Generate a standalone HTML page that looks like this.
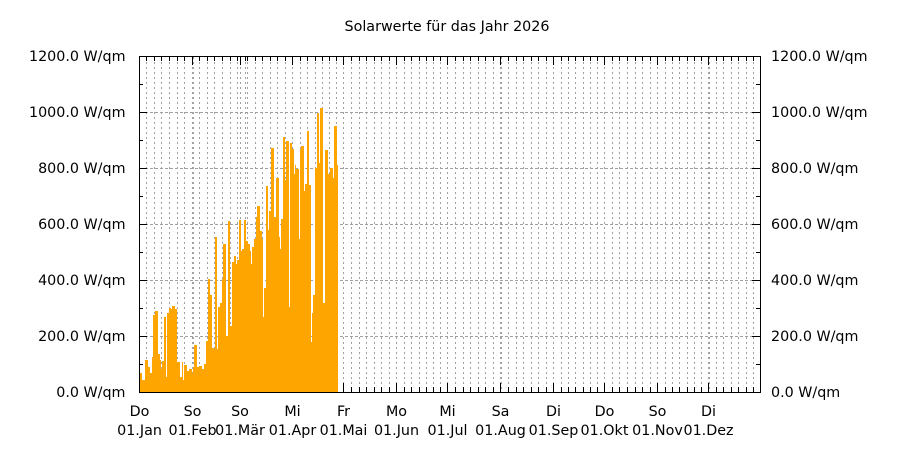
<!DOCTYPE html>
<html><head><meta charset="utf-8"><style>
html,body{margin:0;padding:0;background:#fff;}
svg{display:block;}
text{font-family:"DejaVu Sans","Liberation Sans",sans-serif;font-size:14.3px;fill:#000;}
</style></head><body>
<svg width="900" height="450" viewBox="0 0 900 450" xmlns="http://www.w3.org/2000/svg">
<rect x="0" y="0" width="900" height="450" fill="#fff"/>
<text x="447" y="31" text-anchor="middle">Solarwerte für das Jahr 2026</text>

<!-- horizontal grid -->
<g stroke="#a0a0a0" stroke-width="1" stroke-dasharray="3,2" shape-rendering="crispEdges">
<line x1="140" y1="336.5" x2="760" y2="336.5"/>
<line x1="140" y1="280.5" x2="760" y2="280.5"/>
<line x1="140" y1="224.5" x2="760" y2="224.5"/>
<line x1="140" y1="168.5" x2="760" y2="168.5"/>
<line x1="140" y1="112.5" x2="760" y2="112.5"/>
</g>

<!-- vertical grid -->
<g stroke="#a0a0a0" stroke-width="1" stroke-dasharray="2,3" shape-rendering="crispEdges">
<line x1="146.5" y1="57" x2="146.5" y2="392"/><line x1="154.5" y1="57" x2="154.5" y2="392"/><line x1="161.5" y1="57" x2="161.5" y2="392"/><line x1="169.5" y1="57" x2="169.5" y2="392"/><line x1="177.5" y1="57" x2="177.5" y2="392"/><line x1="184.5" y1="57" x2="184.5" y2="392"/>
<line x1="192.5" y1="57" x2="192.5" y2="392"/><line x1="193.5" y1="57" x2="193.5" y2="392"/>
<line x1="199.5" y1="57" x2="199.5" y2="392"/><line x1="207.5" y1="57" x2="207.5" y2="392"/><line x1="214.5" y1="57" x2="214.5" y2="392"/><line x1="222.5" y1="57" x2="222.5" y2="392"/><line x1="230.5" y1="57" x2="230.5" y2="392"/><line x1="237.5" y1="57" x2="237.5" y2="392"/>
<line x1="240.5" y1="57" x2="240.5" y2="392"/><line x1="245.5" y1="57" x2="245.5" y2="392"/>
<line x1="247.5" y1="57" x2="247.5" y2="392"/><line x1="255.5" y1="57" x2="255.5" y2="392"/><line x1="262.5" y1="57" x2="262.5" y2="392"/><line x1="270.5" y1="57" x2="270.5" y2="392"/><line x1="277.5" y1="57" x2="277.5" y2="392"/><line x1="285.5" y1="57" x2="285.5" y2="392"/>
<line x1="292.5" y1="57" x2="292.5" y2="392"/>
<line x1="300.5" y1="57" x2="300.5" y2="392"/><line x1="307.5" y1="57" x2="307.5" y2="392"/><line x1="315.5" y1="57" x2="315.5" y2="392"/><line x1="322.5" y1="57" x2="322.5" y2="392"/><line x1="329.5" y1="57" x2="329.5" y2="392"/><line x1="336.5" y1="57" x2="336.5" y2="392"/>
<line x1="343.5" y1="57" x2="343.5" y2="392"/>
<line x1="351.5" y1="57" x2="351.5" y2="392"/><line x1="359.5" y1="57" x2="359.5" y2="392"/><line x1="366.5" y1="57" x2="366.5" y2="392"/><line x1="374.5" y1="57" x2="374.5" y2="392"/><line x1="381.5" y1="57" x2="381.5" y2="392"/><line x1="389.5" y1="57" x2="389.5" y2="392"/>
<line x1="396.5" y1="57" x2="396.5" y2="392"/>
<line x1="404.5" y1="57" x2="404.5" y2="392"/><line x1="411.5" y1="57" x2="411.5" y2="392"/><line x1="419.5" y1="57" x2="419.5" y2="392"/><line x1="426.5" y1="57" x2="426.5" y2="392"/><line x1="433.5" y1="57" x2="433.5" y2="392"/><line x1="440.5" y1="57" x2="440.5" y2="392"/>
<line x1="447.5" y1="57" x2="447.5" y2="392"/>
<line x1="455.5" y1="57" x2="455.5" y2="392"/><line x1="463.5" y1="57" x2="463.5" y2="392"/><line x1="470.5" y1="57" x2="470.5" y2="392"/><line x1="478.5" y1="57" x2="478.5" y2="392"/><line x1="485.5" y1="57" x2="485.5" y2="392"/><line x1="493.5" y1="57" x2="493.5" y2="392"/>
<line x1="500.5" y1="57" x2="500.5" y2="392"/><line x1="501.5" y1="57" x2="501.5" y2="392"/>
<line x1="508.5" y1="57" x2="508.5" y2="392"/><line x1="516.5" y1="57" x2="516.5" y2="392"/><line x1="523.5" y1="57" x2="523.5" y2="392"/><line x1="531.5" y1="57" x2="531.5" y2="392"/><line x1="538.5" y1="57" x2="538.5" y2="392"/><line x1="546.5" y1="57" x2="546.5" y2="392"/>
<line x1="553.5" y1="57" x2="553.5" y2="392"/>
<line x1="561.5" y1="57" x2="561.5" y2="392"/><line x1="568.5" y1="57" x2="568.5" y2="392"/><line x1="575.5" y1="57" x2="575.5" y2="392"/><line x1="583.5" y1="57" x2="583.5" y2="392"/><line x1="590.5" y1="57" x2="590.5" y2="392"/><line x1="597.5" y1="57" x2="597.5" y2="392"/>
<line x1="604.5" y1="57" x2="604.5" y2="392"/>
<line x1="612.5" y1="57" x2="612.5" y2="392"/><line x1="619.5" y1="57" x2="619.5" y2="392"/><line x1="627.5" y1="57" x2="627.5" y2="392"/><line x1="635.5" y1="57" x2="635.5" y2="392"/><line x1="642.5" y1="57" x2="642.5" y2="392"/><line x1="650.5" y1="57" x2="650.5" y2="392"/>
<line x1="657.5" y1="57" x2="657.5" y2="392"/>
<line x1="665.5" y1="57" x2="665.5" y2="392"/><line x1="672.5" y1="57" x2="672.5" y2="392"/><line x1="679.5" y1="57" x2="679.5" y2="392"/><line x1="687.5" y1="57" x2="687.5" y2="392"/><line x1="694.5" y1="57" x2="694.5" y2="392"/><line x1="701.5" y1="57" x2="701.5" y2="392"/>
<line x1="708.5" y1="57" x2="708.5" y2="392"/><line x1="709.5" y1="57" x2="709.5" y2="392"/>
<line x1="716.5" y1="57" x2="716.5" y2="392"/><line x1="723.5" y1="57" x2="723.5" y2="392"/><line x1="731.5" y1="57" x2="731.5" y2="392"/><line x1="738.5" y1="57" x2="738.5" y2="392"/><line x1="746.5" y1="57" x2="746.5" y2="392"/><line x1="753.5" y1="57" x2="753.5" y2="392"/>
</g>

<!-- ticks -->
<g stroke="#000" stroke-width="1" shape-rendering="crispEdges">
<!-- y left major -->
<line x1="139" y1="336.5" x2="147" y2="336.5"/><line x1="139" y1="280.5" x2="147" y2="280.5"/><line x1="139" y1="224.5" x2="147" y2="224.5"/><line x1="139" y1="168.5" x2="147" y2="168.5"/><line x1="139" y1="112.5" x2="147" y2="112.5"/>
<!-- y left minor -->
<line x1="139" y1="364.5" x2="143" y2="364.5"/><line x1="139" y1="308.5" x2="143" y2="308.5"/><line x1="139" y1="252.5" x2="143" y2="252.5"/><line x1="139" y1="196.5" x2="143" y2="196.5"/><line x1="139" y1="140.5" x2="143" y2="140.5"/><line x1="139" y1="84.5" x2="143" y2="84.5"/>
<!-- y right major -->
<line x1="752" y1="336.5" x2="761" y2="336.5"/><line x1="752" y1="280.5" x2="761" y2="280.5"/><line x1="752" y1="224.5" x2="761" y2="224.5"/><line x1="752" y1="168.5" x2="761" y2="168.5"/><line x1="752" y1="112.5" x2="761" y2="112.5"/>
<line x1="756" y1="364.5" x2="761" y2="364.5"/><line x1="756" y1="308.5" x2="761" y2="308.5"/><line x1="756" y1="252.5" x2="761" y2="252.5"/><line x1="756" y1="196.5" x2="761" y2="196.5"/><line x1="756" y1="140.5" x2="761" y2="140.5"/><line x1="756" y1="84.5" x2="761" y2="84.5"/>
</g>
<!-- x ticks top (major) -->
<g stroke="#000" stroke-width="1" shape-rendering="crispEdges">
<path d="M139.5 56V65M192.5 56V65M240.5 56V65M292.5 56V65M343.5 56V65M396.5 56V65M447.5 56V65M500.5 56V65M553.5 56V65M604.5 56V65M657.5 56V65M708.5 56V65"/>
<path d="M139.5 392V383M192.5 392V383M240.5 392V383M292.5 392V383M343.5 392V383M396.5 392V383M447.5 392V383M500.5 392V383M553.5 392V383M604.5 392V383M657.5 392V383M708.5 392V383"/>
<path d="M146.5 56V61M154.5 56V61M161.5 56V61M169.5 56V61M177.5 56V61M184.5 56V61M199.5 56V61M207.5 56V61M214.5 56V61M222.5 56V61M230.5 56V61M237.5 56V61M245.5 56V61M247.5 56V61M255.5 56V61M262.5 56V61M270.5 56V61M277.5 56V61M285.5 56V61M300.5 56V61M307.5 56V61M315.5 56V61M322.5 56V61M329.5 56V61M336.5 56V61M351.5 56V61M359.5 56V61M366.5 56V61M374.5 56V61M381.5 56V61M389.5 56V61M404.5 56V61M411.5 56V61M419.5 56V61M426.5 56V61M433.5 56V61M440.5 56V61M455.5 56V61M463.5 56V61M470.5 56V61M478.5 56V61M485.5 56V61M493.5 56V61M508.5 56V61M516.5 56V61M523.5 56V61M531.5 56V61M538.5 56V61M546.5 56V61M561.5 56V61M568.5 56V61M575.5 56V61M583.5 56V61M590.5 56V61M597.5 56V61M612.5 56V61M619.5 56V61M627.5 56V61M635.5 56V61M642.5 56V61M650.5 56V61M665.5 56V61M672.5 56V61M679.5 56V61M687.5 56V61M694.5 56V61M701.5 56V61M716.5 56V61M723.5 56V61M731.5 56V61M738.5 56V61M746.5 56V61M753.5 56V61"/>
<path d="M146.5 392V387M154.5 392V387M161.5 392V387M169.5 392V387M177.5 392V387M184.5 392V387M199.5 392V387M207.5 392V387M214.5 392V387M222.5 392V387M230.5 392V387M237.5 392V387M245.5 392V387M247.5 392V387M255.5 392V387M262.5 392V387M270.5 392V387M277.5 392V387M285.5 392V387M300.5 392V387M307.5 392V387M315.5 392V387M322.5 392V387M329.5 392V387M336.5 392V387M351.5 392V387M359.5 392V387M366.5 392V387M374.5 392V387M381.5 392V387M389.5 392V387M404.5 392V387M411.5 392V387M419.5 392V387M426.5 392V387M433.5 392V387M440.5 392V387M455.5 392V387M463.5 392V387M470.5 392V387M478.5 392V387M485.5 392V387M493.5 392V387M508.5 392V387M516.5 392V387M523.5 392V387M531.5 392V387M538.5 392V387M546.5 392V387M561.5 392V387M568.5 392V387M575.5 392V387M583.5 392V387M590.5 392V387M597.5 392V387M612.5 392V387M619.5 392V387M627.5 392V387M635.5 392V387M642.5 392V387M650.5 392V387M665.5 392V387M672.5 392V387M679.5 392V387M687.5 392V387M694.5 392V387M701.5 392V387M716.5 392V387M723.5 392V387M731.5 392V387M738.5 392V387M746.5 392V387M753.5 392V387"/>
</g>

<!-- bars -->
<g fill="#FFA500" shape-rendering="crispEdges">
<rect x="140" y="373" width="2" height="19"/>
<rect x="142" y="380" width="3" height="12"/>
<rect x="145" y="360" width="3" height="32"/>
<rect x="148" y="367" width="2" height="25"/>
<rect x="150" y="373" width="2" height="19"/>
<rect x="152" y="357" width="1" height="35"/>
<rect x="153" y="315" width="2" height="77"/>
<rect x="155" y="311" width="3" height="81"/>
<rect x="158" y="354" width="2" height="38"/>
<rect x="160" y="360" width="1" height="32"/>
<rect x="161" y="369" width="1" height="23"/>
<rect x="162" y="361" width="2" height="31"/>
<rect x="164" y="317" width="2" height="75"/>
<rect x="166" y="377" width="1" height="15"/>
<rect x="167" y="313" width="2" height="79"/>
<rect x="169" y="308" width="2" height="84"/>
<rect x="171" y="309" width="1" height="83"/>
<rect x="172" y="306" width="3" height="86"/>
<rect x="175" y="309" width="2" height="83"/>
<rect x="177" y="362" width="3" height="30"/>
<rect x="180" y="377" width="2" height="15"/>
<rect x="182" y="362" width="1" height="30"/>
<rect x="183" y="380" width="1" height="12"/>
<rect x="184" y="365" width="3" height="27"/>
<rect x="187" y="371" width="2" height="21"/>
<rect x="189" y="369" width="3" height="23"/>
<rect x="192" y="373" width="1" height="19"/>
<rect x="193" y="367" width="1" height="25"/>
<rect x="194" y="345" width="3" height="47"/>
<rect x="197" y="367" width="2" height="25"/>
<rect x="199" y="366" width="3" height="26"/>
<rect x="202" y="369" width="2" height="23"/>
<rect x="204" y="364" width="2" height="28"/>
<rect x="206" y="341" width="2" height="51"/>
<rect x="208" y="279" width="2" height="113"/>
<rect x="210" y="295" width="2" height="97"/>
<rect x="212" y="348" width="2" height="44"/>
<rect x="214" y="349" width="1" height="43"/>
<rect x="215" y="237" width="2" height="155"/>
<rect x="217" y="349" width="1" height="43"/>
<rect x="218" y="307" width="2" height="85"/>
<rect x="220" y="303" width="2" height="89"/>
<rect x="222" y="279" width="1" height="113"/>
<rect x="223" y="244" width="3" height="148"/>
<rect x="226" y="336" width="2" height="56"/>
<rect x="228" y="221" width="2" height="171"/>
<rect x="230" y="326" width="2" height="66"/>
<rect x="232" y="262" width="2" height="130"/>
<rect x="234" y="256" width="2" height="136"/>
<rect x="236" y="264" width="1" height="128"/>
<rect x="237" y="260" width="2" height="132"/>
<rect x="239" y="220" width="2" height="172"/>
<rect x="241" y="251" width="1" height="141"/>
<rect x="242" y="249" width="2" height="143"/>
<rect x="244" y="220" width="2" height="172"/>
<rect x="246" y="241" width="2" height="151"/>
<rect x="248" y="244" width="2" height="148"/>
<rect x="250" y="251" width="1" height="141"/>
<rect x="251" y="264" width="1" height="128"/>
<rect x="252" y="247" width="2" height="145"/>
<rect x="254" y="239" width="2" height="153"/>
<rect x="256" y="217" width="1" height="175"/>
<rect x="257" y="206" width="3" height="186"/>
<rect x="260" y="231" width="2" height="161"/>
<rect x="262" y="239" width="1" height="153"/>
<rect x="263" y="317" width="1" height="75"/>
<rect x="264" y="288" width="2" height="104"/>
<rect x="266" y="186" width="2" height="206"/>
<rect x="268" y="230" width="1" height="162"/>
<rect x="269" y="211" width="2" height="181"/>
<rect x="271" y="148" width="3" height="244"/>
<rect x="274" y="217" width="2" height="175"/>
<rect x="276" y="178" width="3" height="214"/>
<rect x="279" y="237" width="1" height="155"/>
<rect x="280" y="249" width="1" height="143"/>
<rect x="281" y="219" width="2" height="173"/>
<rect x="283" y="137" width="2" height="255"/>
<rect x="285" y="180" width="1" height="212"/>
<rect x="286" y="141" width="3" height="251"/>
<rect x="289" y="307" width="1" height="85"/>
<rect x="290" y="143" width="2" height="249"/>
<rect x="292" y="149" width="2" height="243"/>
<rect x="294" y="174" width="1" height="218"/>
<rect x="295" y="165" width="1" height="227"/>
<rect x="296" y="169" width="3" height="223"/>
<rect x="299" y="239" width="1" height="153"/>
<rect x="300" y="149" width="1" height="243"/>
<rect x="301" y="146" width="3" height="246"/>
<rect x="304" y="191" width="1" height="201"/>
<rect x="305" y="184" width="2" height="208"/>
<rect x="307" y="131" width="2" height="261"/>
<rect x="309" y="185" width="2" height="207"/>
<rect x="311" y="342" width="1" height="50"/>
<rect x="312" y="313" width="1" height="79"/>
<rect x="313" y="295" width="2" height="97"/>
<rect x="315" y="168" width="2" height="224"/>
<rect x="317" y="113" width="2" height="279"/>
<rect x="319" y="163" width="1" height="229"/>
<rect x="320" y="108" width="3" height="284"/>
<rect x="323" y="303" width="2" height="89"/>
<rect x="325" y="150" width="3" height="242"/>
<rect x="328" y="174" width="2" height="218"/>
<rect x="330" y="168" width="3" height="224"/>
<rect x="333" y="178" width="1" height="214"/>
<rect x="334" y="126" width="3" height="266"/>
<rect x="337" y="165" width="1" height="227"/>
</g>

<!-- border -->
<rect x="139.5" y="56.5" width="621" height="336" fill="none" stroke="#000" stroke-width="1" shape-rendering="crispEdges"/>

<!-- y labels left -->
<g text-anchor="end">
<text x="125.5" y="397">0.0 W/qm</text>
<text x="125.5" y="341">200.0 W/qm</text>
<text x="125.5" y="285">400.0 W/qm</text>
<text x="125.5" y="229">600.0 W/qm</text>
<text x="125.5" y="173">800.0 W/qm</text>
<text x="125.5" y="117">1000.0 W/qm</text>
<text x="125.5" y="61">1200.0 W/qm</text>
</g>
<!-- y labels right -->
<g text-anchor="start">
<text x="771" y="397">0.0 W/qm</text>
<text x="771" y="341">200.0 W/qm</text>
<text x="771" y="285">400.0 W/qm</text>
<text x="771" y="229">600.0 W/qm</text>
<text x="771" y="173">800.0 W/qm</text>
<text x="771" y="117">1000.0 W/qm</text>
<text x="771" y="61">1200.0 W/qm</text>
</g>

<!-- x labels -->
<g text-anchor="middle">
<text x="139.5" y="416">Do</text><text x="139.5" y="435">01.Jan</text>
<text x="192.5" y="416">So</text><text x="192.5" y="435">01.Feb</text>
<text x="240" y="416">So</text><text x="240" y="435">01.Mär</text>
<text x="292.5" y="416">Mi</text><text x="292.5" y="435">01.Apr</text>
<text x="343.5" y="416">Fr</text><text x="343.5" y="435">01.Mai</text>
<text x="396.5" y="416">Mo</text><text x="396.5" y="435">01.Jun</text>
<text x="447.5" y="416">Mi</text><text x="447.5" y="435">01.Jul</text>
<text x="500.5" y="416">Sa</text><text x="500.5" y="435">01.Aug</text>
<text x="553.5" y="416">Di</text><text x="553.5" y="435">01.Sep</text>
<text x="604.5" y="416">Do</text><text x="604.5" y="435">01.Okt</text>
<text x="657.5" y="416">So</text><text x="657.5" y="435">01.Nov</text>
<text x="708.5" y="416">Di</text><text x="708.5" y="435">01.Dez</text>
</g>
</svg>
</body></html>
